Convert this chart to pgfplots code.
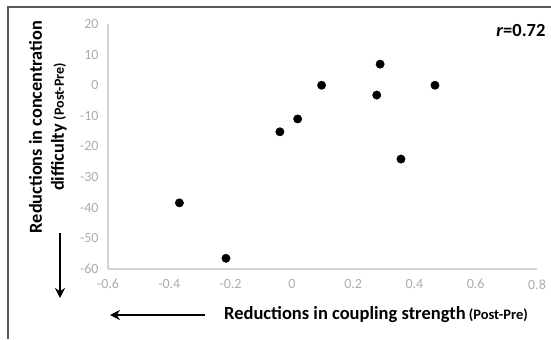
\documentclass[border=0pt]{standalone}
\usepackage{pgfplots}
\pgfplotsset{compat=1.18}
\usepackage{fontspec}
\setmainfont{Carlito}
\usetikzlibrary{arrows.meta}
\begin{document}
\begin{tikzpicture}[x=1bp,y=1bp]
\path[use as bounding box] (0,0) rectangle (551,339);
\begin{axis}[
  at={(108bp,70bp)}, anchor=south west,
  width=429bp, height=245bp, scale only axis,
  xmin=-0.6, xmax=0.8, ymin=-60, ymax=20,
  axis lines=left, axis line style={gray!35, line width=1.2pt, -},
  xtick={-0.6,-0.4,...,0.8}, ytick={-60,-50,...,20},
  major tick length=0pt,
  ticklabel style={font=\fontsize{14bp}{16bp}\selectfont, text=gray!65},
  xticklabel style={yshift=-7bp},
  yticklabel style={xshift=-6bp},
  /pgf/number format/assume math mode=true,
  /pgf/number format/fixed,
  clip=false,
]
\addplot[only marks, mark=*, mark size=4.2bp, black] coordinates {
(-0.367,-38.4) (-0.215,-56.5) (-0.039,-15.2) (0.019,-11) (0.097,0)
(0.277,-3.2) (0.288,6.9) (0.356,-24.1) (0.467,0)
};
\end{axis}
\draw[gray!70!black, line width=1.8pt] (8,0) -- (8,332) -- (551,332);
\node[anchor=east, font=\fontsize{18.5bp}{20bp}\selectfont\bfseries] at (549,309) {\textit{r}=0.72};
\node[rotate=90, align=center, font=\fontsize{18.3bp}{22bp}\selectfont\bfseries] at (48,212)
  {Reductions in concentration\\difficulty {\fontsize{14bp}{15bp}\selectfont (Post-Pre)}};
\node[font=\fontsize{18.5bp}{20bp}\selectfont\bfseries] at (376,24)
  {Reductions in coupling strength\,{\fontsize{14.5bp}{15bp}\selectfont(Post-Pre)}};
\draw[line width=2.6pt, -{Stealth[length=10bp,width=10bp]}] (60,106) -- (60,41);
\draw[line width=2.6pt, -{Stealth[length=10bp,width=10bp]}] (205,24) -- (110,24);
\end{tikzpicture}
\end{document}
